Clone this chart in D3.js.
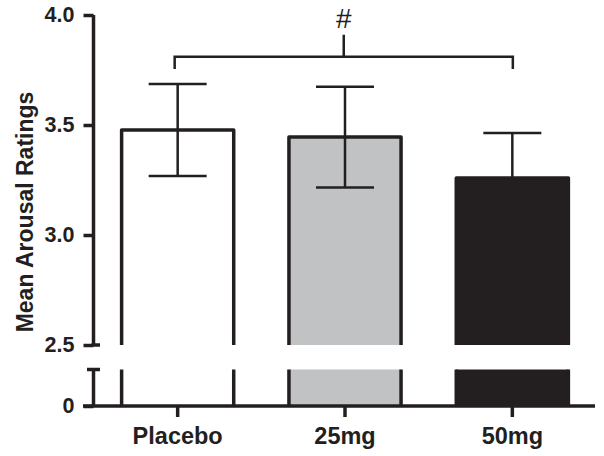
<!DOCTYPE html>
<html><head><meta charset="utf-8">
<script src="https://cdn.jsdelivr.net/npm/d3@7"></script>
<style>body{margin:0;background:#fff}svg{display:block}</style>
</head><body>
<script>
const categories = ["Placebo", "25mg", "50mg"];
const means = [3.477, 3.445, 3.259];
const sems = [0.209, 0.229, 0.205];
const fills = ["#ffffff", "#c1c2c4", "#231f20"];
const upperTicks = [2.5, 3.0, 3.5, 4.0];
const lowerTicks = [0];
const sigLabel = "#";
const yLabel = "Mean Arousal Ratings";

const W = 604, H = 456, ink = "#231f20";
const FONT = "'Liberation Sans', Arial, sans-serif";
const svg = d3.select("body").append("svg").attr("width", W).attr("height", H);

const x = d3.scaleBand().domain(categories).range([94, 596]).paddingInner(0.33).paddingOuter(0.165);
const yU = d3.scaleLinear().domain([2.5, 4.0]).range([345, 15]);
const yL = d3.scaleLinear().domain([0, 0.17]).range([406, 369.5]);
const axisX = 93.5;

// bars
categories.forEach((c, i) => {
  const x0 = x(c), x1 = x(c) + x.bandwidth();
  svg.append("rect").attr("x", x0).attr("y", yU(means[i])).attr("width", x.bandwidth())
    .attr("height", yU(2.5) - yU(means[i])).attr("fill", fills[i]);
  svg.append("path").attr("d", `M${x0},${yU(2.5)}V${yU(means[i])}H${x1}V${yU(2.5)}`)
    .attr("fill", "none").attr("stroke", ink).attr("stroke-width", 3.5).attr("stroke-linejoin", "round");
  svg.append("rect").attr("x", x0).attr("y", yL(0.17)).attr("width", x.bandwidth())
    .attr("height", yL(0) - yL(0.17)).attr("fill", fills[i]);
  svg.append("path").attr("d", `M${x0},${yL(0.17)}V${yL(0)}M${x1},${yL(0.17)}V${yL(0)}`)
    .attr("fill", "none").attr("stroke", ink).attr("stroke-width", 3.5);
});

// error bars
categories.forEach((c, i) => {
  const cx = x(c) + x.bandwidth() / 2, hw = 29;
  const g = svg.append("g").attr("stroke", ink).attr("stroke-width", 2.5).attr("fill", "none");
  g.append("line").attr("x1", cx).attr("x2", cx).attr("y1", yU(means[i] + sems[i])).attr("y2", yU(means[i] - sems[i]));
  g.append("line").attr("x1", cx - hw).attr("x2", cx + hw).attr("y1", yU(means[i] + sems[i])).attr("y2", yU(means[i] + sems[i]));
  g.append("line").attr("x1", cx - hw).attr("x2", cx + hw).attr("y1", yU(means[i] - sems[i])).attr("y2", yU(means[i] - sems[i]));
});

// significance bracket
const bx0 = x(categories[0]) + x.bandwidth() / 2 - 3, bx1 = x(categories[2]) + x.bandwidth() / 2 + 0.5;
const bY = yU(3.81), legY = yU(3.755), topY = yU(3.91), bmid = (bx0 + bx1) / 2;
svg.append("path").attr("d", `M${bx0},${legY}V${bY}H${bx1}V${legY}M${bmid},${bY}V${topY}`)
  .attr("fill", "none").attr("stroke", ink).attr("stroke-width", 2.5);
svg.append("text").attr("x", bmid).attr("y", 28).attr("text-anchor", "middle")
  .attr("font-family", FONT).attr("font-size", 28).attr("fill", ink).text(sigLabel);

// y axis upper
const gU = svg.append("g").attr("transform", `translate(${axisX},0)`)
  .call(d3.axisLeft(yU).tickValues(upperTicks).tickFormat(d3.format(".1f")).tickSize(10).tickPadding(9));
gU.select(".domain").attr("d", `M0,${yU(4.0)}V${yU(2.5)}`).attr("stroke", ink).attr("stroke-width", 3.5);
gU.selectAll(".tick line").attr("stroke", ink).attr("stroke-width", 3.5);
gU.selectAll(".tick text").attr("fill", ink).attr("font-size", 21.5).attr("font-weight", "bold")
  .attr("font-family", FONT);
svg.append("line").attr("x1", axisX - 2).attr("x2", 100).attr("y1", yU(2.5)).attr("y2", yU(2.5))
  .attr("stroke", ink).attr("stroke-width", 3.5);

// y axis lower
const gL = svg.append("g").attr("transform", `translate(${axisX},0)`)
  .call(d3.axisLeft(yL).tickValues(lowerTicks).tickFormat(d3.format("d")).tickSize(10).tickPadding(9));
gL.select(".domain").attr("d", `M0,${yL(0.17)}V${yL(0)}`).attr("stroke", ink).attr("stroke-width", 3.5);
gL.selectAll(".tick line").attr("stroke", ink).attr("stroke-width", 3.5);
gL.selectAll(".tick text").attr("fill", ink).attr("font-size", 21.5).attr("font-weight", "bold")
  .attr("font-family", FONT);
svg.append("line").attr("x1", 87).attr("x2", 100).attr("y1", yL(0.17)).attr("y2", yL(0.17))
  .attr("stroke", ink).attr("stroke-width", 3.5);

// x axis
const gX = svg.append("g").attr("transform", `translate(0,${yL(0)})`)
  .call(d3.axisBottom(x).tickSize(11).tickPadding(10).tickSizeOuter(0));
gX.select(".domain").attr("d", `M83,0H595`).attr("stroke", ink).attr("stroke-width", 3.5);
gX.selectAll(".tick line").attr("stroke", ink).attr("stroke-width", 3.5);
gX.selectAll(".tick text").attr("fill", ink).attr("font-size", 23.5).attr("font-weight", "bold")
  .attr("font-family", FONT);

// y label
svg.append("text").attr("transform", `translate(33,212) rotate(-90)`).attr("text-anchor", "middle")
  .attr("font-family", FONT).attr("font-size", 23).attr("font-weight", "bold")
  .attr("fill", ink).text(yLabel);
</script>
</body></html>
